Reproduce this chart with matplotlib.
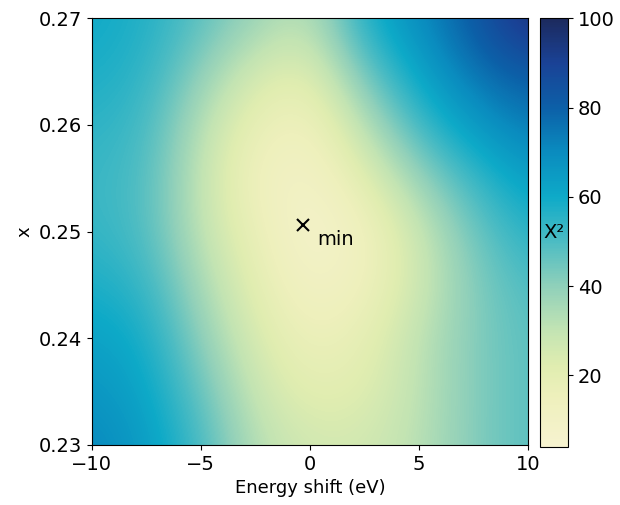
import numpy as np
import matplotlib
matplotlib.use("Agg")
import matplotlib.pyplot as plt
from matplotlib.colors import LinearSegmentedColormap

# grid: energy shift (columns) and x (rows, bottom to top)
energy = [-10, -7.5, -5, -2.5, 0, 2.5, 5, 7.5, 10]
xvals = [0.230, 0.235, 0.240, 0.245, 0.250, 0.255, 0.260, 0.265, 0.270]
chi2 = [
    [71, 65, 51, 32, 26, 26, 32, 42, 48],
    [67, 62, 46, 28, 20, 22, 31, 42, 48],
    [63, 59, 40, 24, 15, 19, 31, 42, 48],
    [58, 54, 35, 20, 10, 14, 27, 42, 50],
    [54, 50, 30, 17, 6, 13, 28, 45, 56],
    [53, 50, 29, 13, 9, 21, 38, 53, 64],
    [55, 52, 32, 17, 13, 32, 52, 66, 74],
    [58, 55, 40, 25, 21, 45, 63, 76, 82],
    [60, 57, 48, 38, 31, 58, 70, 82, 97],
]
min_point = (-0.3, 0.2506)

# colour ramp sampled from the reference colour bar
cbar_vals = [4, 15, 22, 30, 40, 50, 60, 70, 80, 90, 100]
cbar_cols = ["#f7f3d0", "#eef0bc", "#e0edb0", "#c3e4b3", "#8fd0ba", "#4cbcc3",
             "#0eaac8", "#0a8cbf", "#0c60a8", "#1a4296", "#1c2a5e"]

plt.rcParams["font.size"] = 14

cmap = LinearSegmentedColormap.from_list(
    "chi", [((v - 4) / 96, c) for v, c in zip(cbar_vals, cbar_cols)])

fig = plt.figure(figsize=(6.2, 5.05), dpi=100)
ax = fig.add_axes([0.148, 0.119, 0.704, 0.845])
cax = fig.add_axes([0.871, 0.115, 0.045, 0.849])

dx = (energy[1] - energy[0]) / 2
dy = (xvals[1] - xvals[0]) / 2
im = ax.imshow(np.array(chi2), origin="lower", aspect="auto", cmap=cmap,
               interpolation="bicubic", vmin=4, vmax=100,
               extent=[energy[0] - dx, energy[-1] + dx, xvals[0] - dy, xvals[-1] + dy])
ax.set_xlim(-10, 10)
ax.set_ylim(0.23, 0.27)
ax.set_xticks([-10, -5, 0, 5, 10])
ax.set_yticks([0.23, 0.24, 0.25, 0.26, 0.27])
ax.set_xlabel("Energy shift (eV)", fontsize=13)
ax.set_ylabel("x", fontsize=13)

ax.plot(min_point[0], min_point[1], marker="x", color="black", markersize=9, mew=1.5)
ax.annotate("min", min_point, xytext=(10, -14), textcoords="offset points", fontsize=14)

cbar = fig.colorbar(im, cax=cax, ticks=[20, 40, 60, 80, 100])
cax.text(0.5, 0.5, "X²", transform=cax.transAxes, ha="center", va="center", fontsize=14)

fig.savefig("out.png", dpi=100)
